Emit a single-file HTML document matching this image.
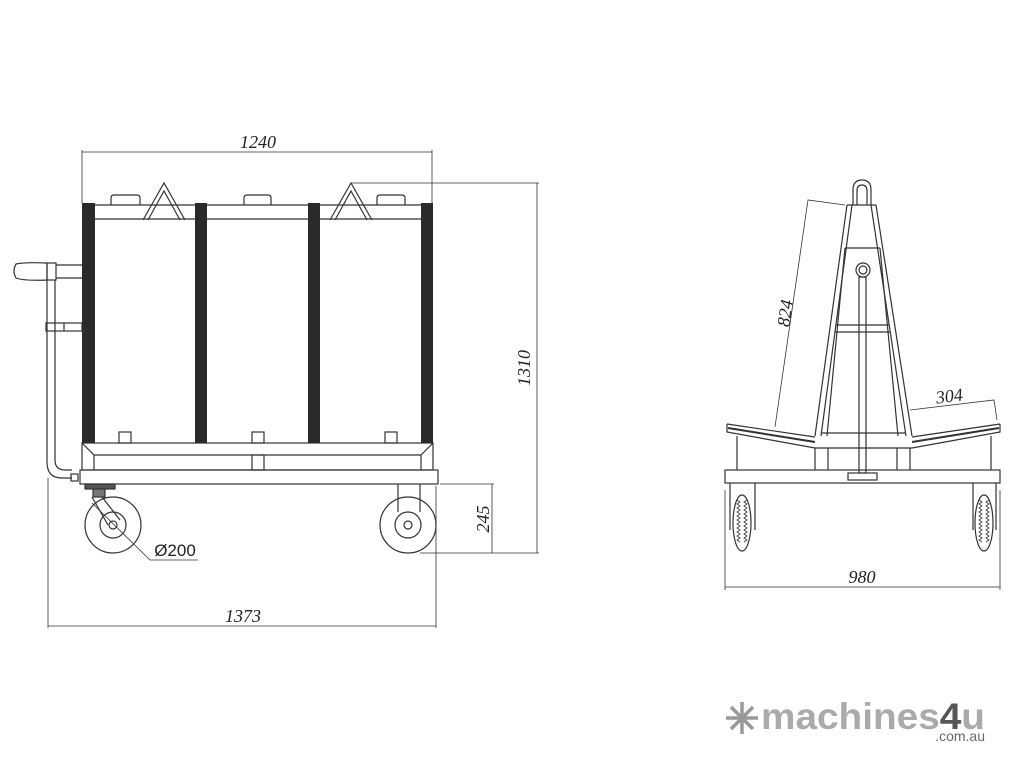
<!DOCTYPE html>
<html><head><meta charset="utf-8"><style>
html,body{margin:0;padding:0;background:#fff;width:1024px;height:768px;overflow:hidden}
svg{display:block}
text{font-family:"Liberation Serif",serif;font-style:italic;fill:#222}
</style></head><body>
<svg width="1024" height="768" viewBox="0 0 1024 768" xmlns="http://www.w3.org/2000/svg">
<g fill="none" stroke="#333" stroke-width="1.2">
<line x1="82" y1="152" x2="432" y2="152" stroke-width="0.8"/>
<line x1="82" y1="150" x2="82" y2="203" stroke-width="0.8"/>
<line x1="432" y1="150" x2="432" y2="203" stroke-width="0.8"/>
<line x1="352" y1="183" x2="539" y2="183" stroke-width="0.8"/>
<line x1="537" y1="183" x2="537" y2="553" stroke-width="0.8"/>
<line x1="420" y1="553" x2="539" y2="553" stroke-width="0.8"/>
<line x1="440" y1="484" x2="494" y2="484" stroke-width="0.8"/>
<line x1="492" y1="484" x2="492" y2="553" stroke-width="0.8"/>
<line x1="48" y1="626" x2="436" y2="626" stroke-width="0.8"/>
<line x1="48" y1="478" x2="48" y2="628" stroke-width="0.8"/>
<line x1="436" y1="486" x2="436" y2="628" stroke-width="0.8"/>
<line x1="94" y1="205" x2="421" y2="205"/>
<line x1="94" y1="219" x2="421" y2="219"/>
<path d="M111 205 V198 Q111 195 114 195 H137 Q140 195 140 198 V205"/>
<path d="M244 205 V198 Q244 195 247 195 H268 Q271 195 271 198 V205"/>
<path d="M377 205 V198 Q377 195 380 195 H402 Q405 195 405 198 V205"/>
<path d="M143 220 L164 183 L185 220 M148 220 L164 191 L180 220"/>
<path d="M330 220 L351 183 L372 220 M335 220 L351 191 L367 220"/>
<rect x="119" y="432" width="12" height="11"/>
<rect x="252" y="432" width="12" height="11"/>
<rect x="385" y="432" width="12" height="11"/>
<rect x="82" y="443" width="351" height="27"/>
<path d="M82 443 L94 455 H421 L433 443 M94 455 V470 M421 455 V470"/>
<rect x="252" y="455" width="12" height="15"/>
<rect x="80" y="470" width="358" height="14"/>
<path d="M47 280 V462 Q47 478 62 478 H72 M55 280 V460 Q55 470 65 470 H72"/>
<path d="M47 280 Q24 281 16 278 Q12 271 16 264 Q24 262 47 263 Z"/>
<rect x="47" y="263" width="9" height="17"/>
<path d="M56 265 H82 M56 278 H82"/>
<rect x="46" y="323" width="36" height="8"/>
<line x1="64" y1="323" x2="64" y2="331"/>
<rect x="71" y="474" width="7" height="7"/>
<rect x="85" y="484" width="30" height="5" fill="#555"/>
<rect x="93" y="489" width="12" height="8" fill="#777"/>
<path d="M92 497 L108 525 M102 497 L120 520"/>
<circle cx="113" cy="525" r="28"/>
<circle cx="113" cy="525" r="13"/>
<circle cx="113" cy="525" r="4"/>
<path d="M92 503 L150 560 H198" stroke-width="0.8"/>
<path d="M398 484 V512 M420 484 V512"/>
<circle cx="408" cy="525" r="28"/>
<circle cx="408" cy="525" r="13"/>
<circle cx="408" cy="525" r="4"/>
</g>
<g fill="#2a2a2a">
<rect x="82" y="203" width="13" height="240"/>
<rect x="195" y="203" width="12" height="240"/>
<rect x="308" y="203" width="12" height="240"/>
<rect x="421" y="203" width="12" height="240"/>
</g>
<text x="258" y="148" font-size="18" text-anchor="middle">1240</text>
<text x="243" y="622" font-size="18" text-anchor="middle">1373</text>
<text font-size="18" text-anchor="middle" transform="translate(530,368) rotate(-90)">1310</text>
<text font-size="18" text-anchor="middle" transform="translate(489,519) rotate(-90)">245</text>
<text x="175" y="556" font-size="17" text-anchor="middle" style="font-style:normal;font-family:'Liberation Sans',sans-serif">Ø200</text>

<g fill="none" stroke="#333" stroke-width="1.2">
<path d="M853 205 V190 Q853 180 862 180 Q871 180 871 190 V205 M857 205 V191 Q857 185 862 185 Q867 185 867 191 V205"/>
<path d="M847 205 H876 M845 248 H880"/>
<path d="M847 205 L815 436 M852 205 L821 436"/>
<path d="M876 205 L912 436 M871 205 L906 436"/>
<path d="M845 248 L827 436 M880 248 L898 436"/>
<path d="M836 325 H889 M835 332 H890 M822 433 H906"/>
<circle cx="863" cy="270" r="7"/>
<circle cx="863" cy="270" r="4"/>
<rect x="859" y="277" width="7" height="196"/>
<rect x="848" y="473" width="29" height="7"/>
<path d="M727 424 L815 437 M912 437 L1000 424 M727 424 V432 L815 448 M1000 424 V432 L912 448"/>
<path d="M728 428 L815 442 M912 442 L999 428" stroke-width="2"/>
<path d="M815 448 H912"/>
<path d="M737 436 V470 M815 448 V470 M828 448 V470 M897 448 V470 M910 448 V470 M991 436 V470"/>
<rect x="725" y="470" width="275" height="13"/>
<path d="M730 483 V530 M755 483 V530 M973 483 V530 M996 483 V530"/>
<ellipse cx="742" cy="523" rx="9" ry="28"/>
<ellipse cx="984" cy="523" rx="9" ry="28"/>
<path d="M737 500 l3 2 l-3 2 l3 2 l-3 2 l3 2 l-3 2 l3 2 l-3 2 l3 2 l-3 2 l3 2 l-3 2 l3 2 l-3 2 l3 2 l-3 2 l3 2 l-3 2 l3 2 l-3 2 l3 2 M747 500 l-3 2 l3 2 l-3 2 l3 2 l-3 2 l3 2 l-3 2 l3 2 l-3 2 l3 2 l-3 2 l3 2 l-3 2 l3 2 l-3 2 l3 2 l-3 2 l3 2 l-3 2 l3 2 l-3 2" stroke-width="0.8"/>
<path d="M979 500 l3 2 l-3 2 l3 2 l-3 2 l3 2 l-3 2 l3 2 l-3 2 l3 2 l-3 2 l3 2 l-3 2 l3 2 l-3 2 l3 2 l-3 2 l3 2 l-3 2 l3 2 l-3 2 l3 2 M989 500 l-3 2 l3 2 l-3 2 l3 2 l-3 2 l3 2 l-3 2 l3 2 l-3 2 l3 2 l-3 2 l3 2 l-3 2 l3 2 l-3 2 l3 2 l-3 2 l3 2 l-3 2 l3 2 l-3 2" stroke-width="0.8"/>
<path d="M725 490 V590 M1000 490 V590 M725 587 H1000" stroke-width="0.8"/>
<path d="M845 205 L808 200 L775 427" stroke-width="0.8"/>
<path d="M910 410 L994 400 L997 420" stroke-width="0.8"/>
</g>
<text x="862" y="583" font-size="18" text-anchor="middle">980</text>
<text font-size="18" text-anchor="middle" transform="translate(791,314) rotate(-82)">824</text>
<text font-size="18" text-anchor="middle" transform="translate(950,402) rotate(-7)">304</text>

<g stroke="#999" stroke-width="3.5" fill="none">
<path d="M742 702 V734 M726 718 H758 M731 707 L753 729 M753 707 L731 729"/>
</g>
<text x="761" y="729" font-size="37" font-weight="bold" textLength="224" lengthAdjust="spacingAndGlyphs" style="font-style:normal;font-family:'Liberation Sans',sans-serif;fill:#aaa">machines<tspan fill="#555">4</tspan>u</text>
<text x="985" y="741" font-size="14" text-anchor="end" style="font-style:normal;font-family:'Liberation Sans',sans-serif;fill:#666">.com.au</text>
</svg>
</body></html>
